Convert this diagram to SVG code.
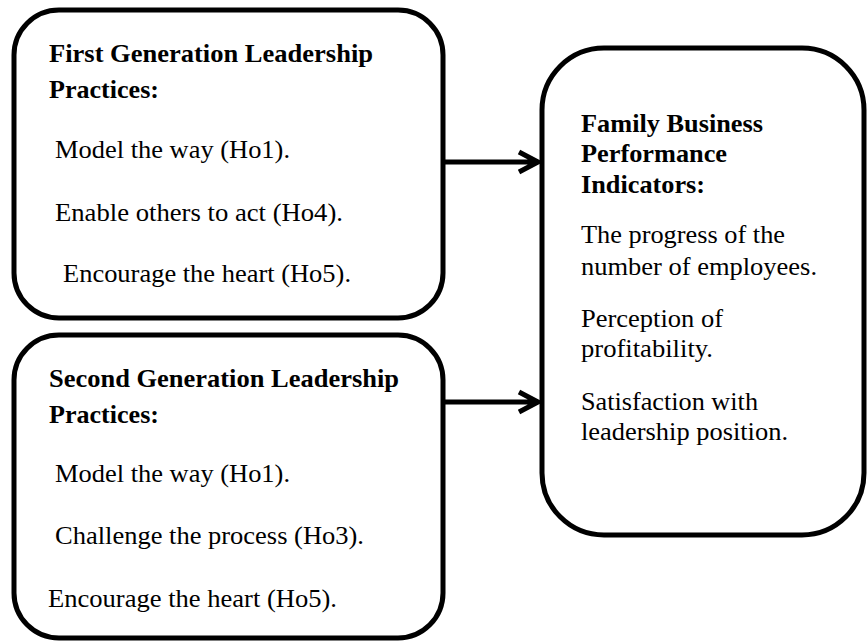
<svg xmlns="http://www.w3.org/2000/svg" width="868" height="643" viewBox="0 0 868 643">
<style>
.box{fill:#fff;stroke:#000;stroke-width:5}
.t{font-family:"Liberation Serif","Times New Roman",serif;font-size:26px;fill:#000}
.b{font-weight:bold}
.c{stroke:#000;stroke-width:5;fill:none}
</style>
<rect width="868" height="643" fill="#fff"/>
<g id="first-gen">
<rect class="box" x="14" y="10" width="429" height="308" rx="45" ry="45"/>
<text class="t b" x="49" y="62" textLength="324" lengthAdjust="spacingAndGlyphs">First Generation Leadership</text>
<text class="t b" x="49" y="98" textLength="110" lengthAdjust="spacingAndGlyphs">Practices:</text>
<text class="t" x="55" y="158" textLength="235" lengthAdjust="spacingAndGlyphs">Model the way (Ho1).</text>
<text class="t" x="55" y="221" textLength="288" lengthAdjust="spacingAndGlyphs">Enable others to act (Ho4).</text>
<text class="t" x="63" y="282" textLength="288" lengthAdjust="spacingAndGlyphs">Encourage the heart (Ho5).</text>
</g>
<g id="second-gen">
<rect class="box" x="14" y="335" width="429" height="303" rx="45" ry="45"/>
<text class="t b" x="49" y="387" textLength="350" lengthAdjust="spacingAndGlyphs">Second Generation Leadership</text>
<text class="t b" x="49" y="423" textLength="110" lengthAdjust="spacingAndGlyphs">Practices:</text>
<text class="t" x="55" y="482" textLength="235" lengthAdjust="spacingAndGlyphs">Model the way (Ho1).</text>
<text class="t" x="55" y="544" textLength="309" lengthAdjust="spacingAndGlyphs">Challenge the process (Ho3).</text>
<text class="t" x="48" y="607" textLength="289" lengthAdjust="spacingAndGlyphs">Encourage the heart (Ho5).</text>
</g>
<g id="performance">
<rect class="box" x="542" y="48" width="322" height="487" rx="62" ry="62"/>
<text class="t b" x="581" y="132" textLength="182" lengthAdjust="spacingAndGlyphs">Family Business</text>
<text class="t b" x="581" y="162" textLength="146" lengthAdjust="spacingAndGlyphs">Performance</text>
<text class="t b" x="581" y="193" textLength="124" lengthAdjust="spacingAndGlyphs">Indicators:</text>
<text class="t" x="581" y="243" textLength="204" lengthAdjust="spacingAndGlyphs">The progress of the</text>
<text class="t" x="581" y="275" textLength="236" lengthAdjust="spacingAndGlyphs">number of employees.</text>
<text class="t" x="581" y="327" textLength="142" lengthAdjust="spacingAndGlyphs">Perception of</text>
<text class="t" x="581" y="357" textLength="132" lengthAdjust="spacingAndGlyphs">profitability.</text>
<text class="t" x="581" y="410" textLength="177" lengthAdjust="spacingAndGlyphs">Satisfaction with</text>
<text class="t" x="581" y="440" textLength="207" lengthAdjust="spacingAndGlyphs">leadership position.</text>
</g>
<g id="connectors">
<path class="c" d="M445 162 H537 M519 152 L538 162 L519 172"/>
<path class="c" d="M445 402 H537 M519 392 L538 402 L519 412"/>
</g>
</svg>
